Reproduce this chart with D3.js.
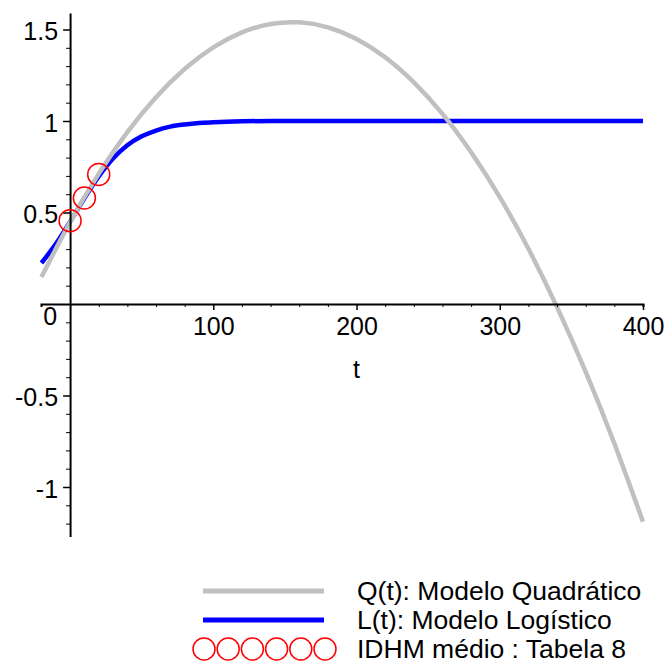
<!DOCTYPE html>
<html>
<head>
<meta charset="utf-8">
<script src="https://cdn.jsdelivr.net/npm/d3@7"></script>
<style>
  body { margin: 0; background: #fff; }
  svg { display: block; }
  text { font-family: "Liberation Sans", Arial, sans-serif; fill: #000; }
</style>
</head>
<body>
<svg id="chart"></svg>
<script>
// t samples and values
const quadT = [-20, 0, 20, 40, 60, 80, 100, 120, 140, 160, 180, 200, 220, 240, 260, 280, 300, 320, 340, 360, 380, 400]
const quadValues = [0.147, 0.447, 0.711, 0.939, 1.130, 1.284, 1.402, 1.484, 1.530, 1.539, 1.512, 1.448, 1.348, 1.211, 1.039, 0.829, 0.584, 0.302, -0.017, -0.371, -0.762, -1.190]

const logT = [-20, -10, 0, 10, 20, 30, 40, 50, 60, 70, 80, 90, 100, 120, 140, 200, 300, 400]
const logValues = [0.224, 0.327, 0.449, 0.578, 0.697, 0.795, 0.867, 0.916, 0.948, 0.969, 0.981, 0.989, 0.993, 0.998, 1, 1, 1, 1]

const idhmT = [0, 10, 20]
const idhmValues = [0.455, 0.579, 0.708]

const xMajorTicks = [100, 200, 300, 400]
const xMinorTicks = [20, 40, 60, 80, 120, 140, 160, 180, 220, 240, 260, 280, 320, 340, 360, 380]
const yMajorTicks = [-1, -0.5, 0, 0.5, 1, 1.5]
const yMinorTicks = [-1.2, -1.1, -0.9, -0.8, -0.7, -0.6, -0.4, -0.3, -0.2, -0.1, 0.1, 0.2, 0.3, 0.4, 0.6, 0.7, 0.8, 0.9, 1.1, 1.2, 1.3, 1.4]
const legendLabels = ['Q(t): Modelo Quadrático', 'L(t): Modelo Logístico', 'IDHM médio : Tabela 8']

const width = 665
const height = 664

const greyColour = '#c0c0c0'
const blueColour = '#0000ff'
const redColour = '#ff0000'

const svg = d3.select('#chart')
  .attr('width', width)
  .attr('height', height)

/// Scales ///
const xScale = d3.scaleLinear()
  .domain([-20.3, 400])
  .range([41, 643])

const yScale = d3.scaleLinear()
  .domain([-1.27, 1.59])
  .range([304 + 183 * 1.27, 304 - 183 * 1.59])

/// Curves (drawn under the axes) ///
const line = (curve) => d3.line()
  .x(d => xScale(d[0]))
  .y(d => yScale(d[1]))
  .curve(curve)

svg.append('path')
  .datum(d3.zip(logT, logValues))
  .attr('d', line(d3.curveMonotoneX))
  .attr('fill', 'none')
  .attr('stroke', blueColour)
  .attr('stroke-width', 4.5)

svg.append('path')
  .datum(d3.zip(quadT, quadValues))
  .attr('d', line(d3.curveNatural))
  .attr('fill', 'none')
  .attr('stroke', greyColour)
  .attr('stroke-width', 4.5)

/// Axes ///
const x0 = xScale(0)
const y0 = yScale(0)

// x axis: minor ticks then major ticks with labels
svg.append('g')
  .attr('transform', `translate(0, ${y0})`)
  .call(d3.axisBottom(xScale).tickValues(xMinorTicks).tickSize(3).tickSizeOuter(3).tickFormat(''))
  .call(g => g.select('.domain').attr('stroke-width', 2))

svg.append('g')
  .attr('transform', `translate(0, ${y0})`)
  .call(d3.axisBottom(xScale).tickValues(xMajorTicks).tickSize(6).tickPadding(7).tickSizeOuter(3))
  .call(g => g.select('.domain').remove())
  .call(g => g.selectAll('.tick line').attr('stroke-width', 1.5))
  .call(g => g.selectAll('text').attr('font-size', 25).attr('font-family', null))

// y axis (plain hyphen for negatives, like the original)
svg.append('g')
  .attr('transform', `translate(${x0}, 0)`)
  .call(d3.axisLeft(yScale).tickValues(yMinorTicks).tickSize(4).tickSizeOuter(0).tickFormat(''))
  .call(g => g.select('.domain').attr('stroke-width', 2))

svg.append('g')
  .attr('transform', `translate(${x0}, 0)`)
  .call(d3.axisLeft(yScale).tickValues(yMajorTicks).tickSize(7).tickPadding(5).tickFormat(d => String(d)))
  .call(g => g.select('.domain').remove())
  .call(g => g.selectAll('.tick line').attr('stroke-width', 1.5).attr('display', d => d === 0 ? 'none' : null))
  .call(g => g.selectAll('text')
    .attr('font-size', 25)
    .attr('font-family', null)
    .attr('dy', d => d === 0 ? '0.8em' : '0.4em')
    .attr('x', d => d === 0 ? -13 : -12)
  )

svg.append('text')
  .attr('x', xScale(200))
  .attr('y', 378)
  .attr('text-anchor', 'middle')
  .attr('font-size', 25)
  .text('t')

/// IDHM points ///
svg.selectAll('.idhm')
  .data(d3.zip(idhmT, idhmValues))
  .join('circle')
  .classed('idhm', true)
  .attr('cx', d => xScale(d[0]))
  .attr('cy', d => yScale(d[1]))
  .attr('r', 11)
  .attr('fill', 'none')
  .attr('stroke', redColour)
  .attr('stroke-width', 1.5)

/// Legend ///
const legendRows = [591, 620, 649]
const legend = svg.append('g')

legend.append('line')
  .attr('x1', 203).attr('x2', 324)
  .attr('y1', legendRows[0]).attr('y2', legendRows[0])
  .attr('stroke', greyColour)
  .attr('stroke-width', 5)

legend.append('line')
  .attr('x1', 203).attr('x2', 324)
  .attr('y1', legendRows[1]).attr('y2', legendRows[1])
  .attr('stroke', blueColour)
  .attr('stroke-width', 5)

legend.selectAll('.leg-circle')
  .data(d3.range(6))
  .join('circle')
  .classed('leg-circle', true)
  .attr('cx', i => 204 + i * 24.2)
  .attr('cy', legendRows[2])
  .attr('r', 11)
  .attr('fill', 'none')
  .attr('stroke', redColour)
  .attr('stroke-width', 1.5)

legend.selectAll('.leg-text')
  .data(legendLabels)
  .join('text')
  .classed('leg-text', true)
  .attr('x', 357)
  .attr('y', (d, i) => legendRows[i] + 9)
  .attr('font-size', 26.5)
  .text(d => d)
</script>
</body>
</html>
